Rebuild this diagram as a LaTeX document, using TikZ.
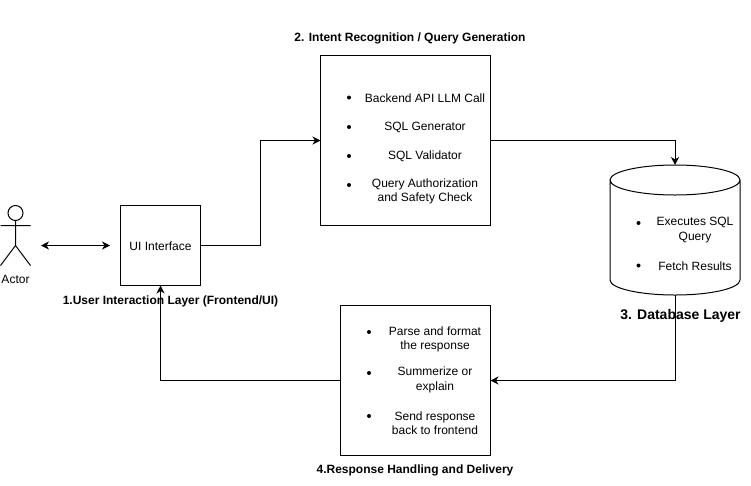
\documentclass[tikz,border=0pt]{standalone}
\usepackage{fontspec}
\setmainfont{Liberation Sans}
\usetikzlibrary{arrows.meta}
\tikzset{
  x=1pt,y=-1pt,
  boxnode/.style={draw=black,line width=1pt,fill=white,inner sep=0pt,outer sep=0pt,anchor=north west},
  txt/.style={inner sep=0pt,align=center,yshift=-1pt,font=\fontsize{12}{14.4}\selectfont,text=black},
  head/.style={inner sep=0pt,yshift=-1pt,font=\fontsize{12}{14.4}\selectfont\bfseries,text=black},
  bigHead/.style={inner sep=0pt,font=\fontsize{14}{16}\selectfont\bfseries,text=black},
  bul/.style={circle,fill=black,inner sep=0pt,minimum size=4pt},
  conn/.style={line width=1pt,draw=black,-{Stealth[length=8pt,width=8pt,inset=2.5pt]}},
  biconn/.style={line width=1pt,draw=black,{Stealth[length=8pt,width=8pt,inset=2.5pt]}-{Stealth[length=8pt,width=8pt,inset=2.5pt]}},
  line/.style={line width=1pt,draw=black},
}
\begin{document}
\begin{tikzpicture}
\useasboundingbox[fill=white] (0,0) rectangle (751,485);

% actor
\draw[line] (15.5,213) circle (7.5);
\draw[line] (15.5,220.5) -- (15.5,245.5) (0.5,225.5) -- (30.5,225.5)
  (0.5,265.5) -- (15.5,245.5) -- (30.5,265.5);
\node[txt] (actor) at (15.5,278) {Actor};
\coordinate (actorR) at (41,245.5);
\coordinate (uiL) at (110,245.5);

% boxes
\node[boxnode,minimum width=80pt,minimum height=80pt] (ui) at (120.5,205.5) {};
\node[txt] (uitxt) at (160.5,245) {UI Interface};
\node[boxnode,minimum width=170pt,minimum height=170pt] (gen) at (320.5,55.5) {};
\node[boxnode,minimum width=150pt,minimum height=150pt] (resp) at (340.5,305.5) {};

% database
\node[inner sep=0pt,outer sep=0pt,minimum width=130pt,minimum height=130pt,anchor=north west] (db) at (610,165) {};
\draw[line,fill=white] (610,180) -- (610,280) arc[start angle=180,end angle=360,x radius=65,y radius=-15] -- (740,180)
  arc[start angle=0,end angle=360,x radius=65,y radius=-15];

% connectors
\draw[biconn] (actorR) -- (uiL);
\coordinate (bend) at (260.5,140.5);
\draw[conn] (ui.east) -| (bend) -- (gen.west);
\draw[conn] (gen.east) -| (db.north);
\draw[conn] (db.south) |- (resp.east);
\draw[conn] (resp.west) -| (ui.south);

% box 2 text
\node[bul] (g1) at (349,97.5) {};
\node[bul] (g2) at (349,127) {};
\node[bul] (g3) at (349,156) {};
\node[bul] (g4) at (349,185) {};
\node[txt] (gt1) at (425,97) {Backend API LLM Call};
\node[txt] (gt2) at (425,126) {SQL Generator};
\node[txt] (gt3) at (425,155) {SQL Validator};
\node[txt] (gt4) at (425,190.5) {Query Authorization\\and Safety Check};

% db text
\node[bul] (d1) at (638.5,223) {};
\node[bul] (d2) at (638.5,265.5) {};
\node[txt] (dt1) at (695,229) {Executes SQL\\Query};
\node[txt] (dt2) at (695,265) {Fetch Results};

% box 4 text
\node[bul] (r1) at (369,332) {};
\node[bul] (r2) at (369,373) {};
\node[bul] (r3) at (369,416) {};
\node[txt] (rt1) at (435,338.5) {Parse and format\\the response};
\node[txt] (rt2) at (435,379) {Summerize or\\explain};
\node[txt] (rt3) at (435,422) {Send response\\back to frontend};

% headings
\node[head] (h1) at (170.5,300) {1.User Interaction Layer (Frontend/UI)};
\node[head] (h2) at (410,37.5) {2. Intent Recognition / Query Generation};
\node[bigHead] (h3) at (680.5,316) {3. Database Layer};
\node[head] (h4) at (415,469) {4.Response Handling and Delivery};
\end{tikzpicture}
\end{document}
